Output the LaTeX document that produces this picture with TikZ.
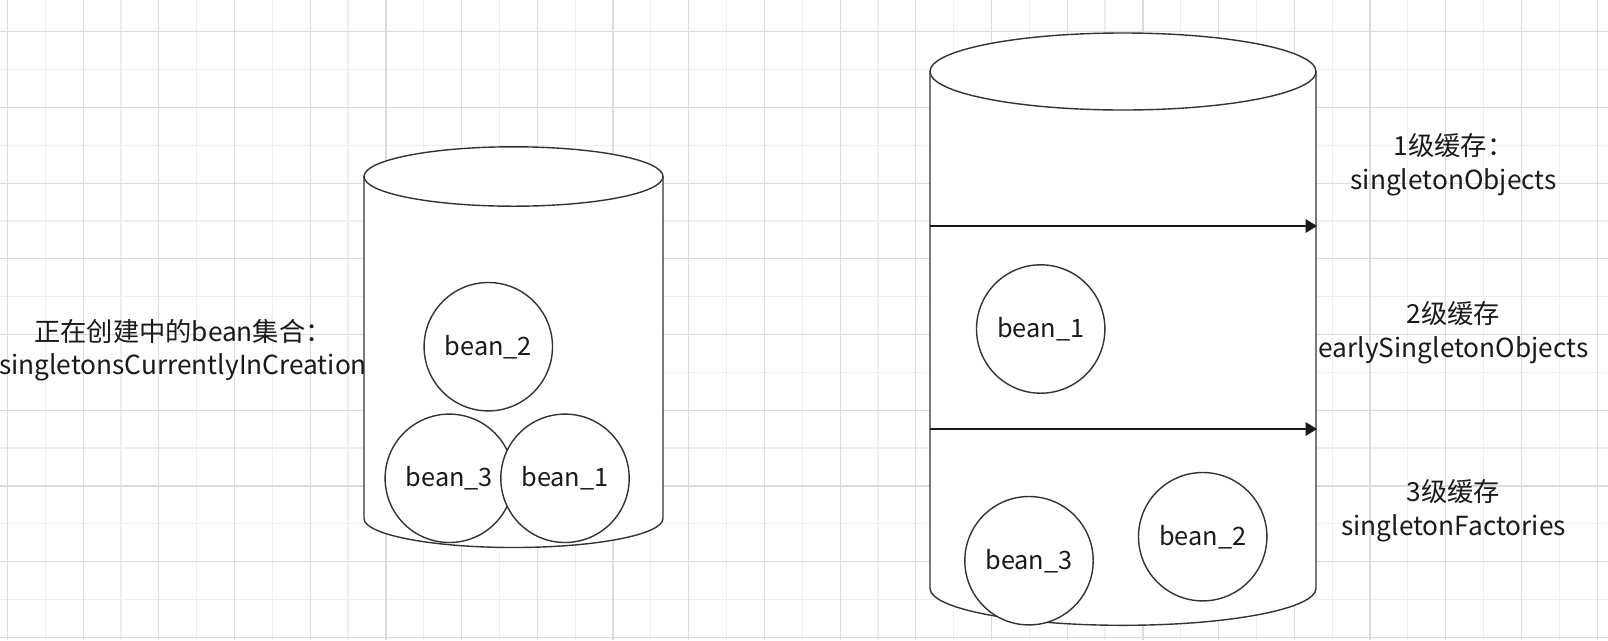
\documentclass[tikz,border=0pt]{standalone}
\usepackage{fontspec}
\setmainfont{Noto Sans CJK SC}
\usetikzlibrary{arrows.meta}
\definecolor{gridA}{HTML}{DCDCDC}
\definecolor{gridB}{HTML}{EEEEEE}
\definecolor{ink}{HTML}{1A1A1A}
\definecolor{shapeline}{HTML}{333333}
\tikzset{
  bean/.style={circle, draw=shapeline, line width=1.05pt, fill=white, minimum size=96.3pt, inner sep=0pt, text=ink, font=\fontsize{19}{22}\selectfont},
  cyl/.style={draw=shapeline, line width=1.05pt, fill=white},
  lbl/.style={align=center, text=ink, font=\fontsize{19.7}{25.5}\selectfont, inner sep=0pt},
  arr/.style={draw=ink, line width=1.4pt, -{Triangle[length=8.5pt,width=10pt]}},
  gridline/.style={line width=0.9pt},
}
\begin{document}
\begin{tikzpicture}[x=0.75pt,y=-0.75pt]
\useasboundingbox (0,0) rectangle (1608,640);
\fill[white] (0,0) rectangle (1608,640);
% grid
\foreach \k in {1,3,...,41} \draw[gridline,gridB] (7.4+37.85*\k,0) -- (7.4+37.85*\k,640);
\foreach \k in {1,3,...,15} \draw[gridline,gridB] (0,31.7+37.85*\k) -- (1608,31.7+37.85*\k);
\foreach \k in {0,2,...,42} \draw[gridline,gridA] (7.4+37.85*\k,0) -- (7.4+37.85*\k,640);
\foreach \k in {0,2,...,16} \draw[gridline,gridA] (0,31.7+37.85*\k) -- (1608,31.7+37.85*\k);

% left cylinder
\path[cyl] (364,176.5) -- (364,518.5) arc[start angle=180,end angle=0,x radius=149.5,y radius=29] -- (663,176.5) -- cycle;
\path[cyl] (513.5,176.5) ellipse [x radius=149.5, y radius=29.7];

% right cylinder
\path[cyl] (930,71.5) -- (930,588.3) arc[start angle=180,end angle=0,x radius=193,y radius=37] -- (1316,71.5) -- cycle;
\path[cyl] (1123,71.5) ellipse [x radius=193, y radius=38.5];

% arrows
\coordinate (a1s) at (930,226);
\coordinate (a1e) at (1317,226);
\coordinate (a2s) at (930,429);
\coordinate (a2e) at (1317,429);
\draw[arr] (a1s) -- (a1e);
\draw[arr] (a2s) -- (a2e);

% left beans
\node[bean] (lb2) at (488.3,346.7) {bean\_2};
\node[bean] (lb3) at (449.3,478.3) {bean\_3};
\node[bean] (lb1) at (565,478.3) {bean\_1};

% right beans
\node[bean] (rb1) at (1040.7,329) {bean\_1};
\node[bean] (rb3) at (1029,560.7) {bean\_3};
\node[bean] (rb2) at (1202.7,536.7) {bean\_2};

% labels
\node[lbl, font=\fontsize{19.7}{24.5}\selectfont] (lset) at (183,350.5) {正在创建中的bean集合：\\singletonsCurrentlyInCreation};
\node[lbl] (l1) at (1453.5,165) {1级缓存：\\singletonObjects};
\node[lbl] (l2) at (1453.5,333) {2级缓存\\earlySingletonObjects};
\node[lbl] (l3) at (1453.5,510.5) {3级缓存\\singletonFactories};
\end{tikzpicture}
\end{document}
